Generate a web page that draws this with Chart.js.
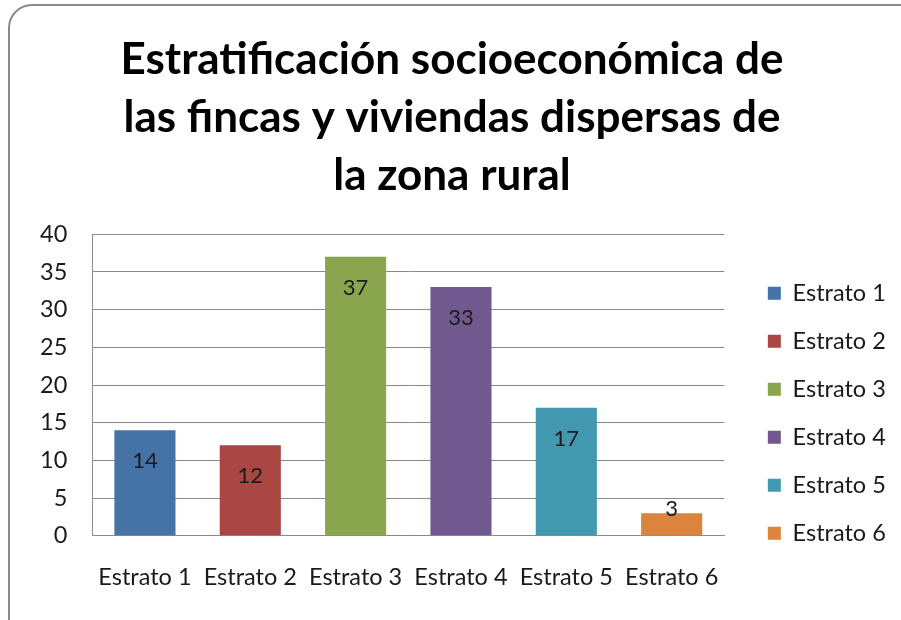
<!DOCTYPE html>
<html>
<head>
<meta charset="utf-8">
<script src="https://cdn.jsdelivr.net/npm/chart.js@4/dist/chart.umd.min.js"></script>
<style>
  html, body { margin: 0; padding: 0; background: #fff; overflow: hidden; }
  #wrap { position: relative; width: 901px; height: 620px; }
  #frame {
    position: absolute; left: 8px; top: 4px; width: 940px; height: 660px;
    border: 2px solid #8a8a8a; border-radius: 24px; box-sizing: border-box;
  }
  canvas { position: absolute; left: 0; top: 0; }
</style>
</head>
<body>
<div id="wrap">
  <div id="frame"></div>
  <canvas id="chart" width="901" height="620"></canvas>
</div>
<script>
var titleLines = ['Estratificación socioeconómica de', 'las fincas y viviendas dispersas de', 'la zona rural'];
var categories = ['Estrato 1', 'Estrato 2', 'Estrato 3', 'Estrato 4', 'Estrato 5', 'Estrato 6'];
var values = [14, 12, 37, 33, 17, 3];
var barColors = ['#4572A7', '#AA4643', '#89A54E', '#71588F', '#4198AF', '#DB843D'];
var yTicks = [0, 5, 10, 15, 20, 25, 30, 35, 40];

var fontFamily = 'Lato, "Open Sans", sans-serif';
var textColor = '#1a1a1a';
var gridColor = '#8a8a8a';

// one dataset per estrato so the legend lists each one
var datasets = categories.map(function(cat, i) {
	return {
		label: cat,
		data: categories.map(function(c, j) { return j === i ? values[i] : null; }),
		backgroundColor: barColors[i],
		borderWidth: 0
	};
});

// value labels near the top of each bar, like Excel's "inside end"
var barLabels = {
	id: 'barLabels',
	afterDatasetsDraw: function(chart) {
		var ctx = chart.ctx;
		ctx.save();
		ctx.font = '22px ' + fontFamily;
		ctx.fillStyle = textColor;
		ctx.textAlign = 'center';
		ctx.textBaseline = 'middle';
		chart.data.datasets.forEach(function(ds, i) {
			var meta = chart.getDatasetMeta(i);
			meta.data.forEach(function(bar, j) {
				var v = ds.data[j];
				if (v === null) return;
				var h = bar.base - bar.y;
				var y = h > 40 ? bar.y + 31 : bar.y - 4;
				ctx.fillText(String(v), bar.x, y);
			});
		});
		ctx.restore();
	}
};

new Chart(document.getElementById('chart'), {
	type: 'bar',
	data: { labels: categories, datasets: datasets },
	options: {
		responsive: false,
		animation: false,
		grouped: false,
		barPercentage: 0.58,
		categoryPercentage: 1,
		layout: { padding: { left: 15, right: 12, top: 0, bottom: 0 } },
		plugins: {
			title: {
				display: true,
				text: titleLines,
				color: '#000',
				font: { family: fontFamily, size: 44, weight: 'bold', lineHeight: 1.32 },
				padding: { top: 31, bottom: 29 }
			},
			legend: {
				position: 'right',
				title: { display: true, text: ' ', font: { size: 12 }, padding: 96 },
				labels: {
					color: textColor,
					font: { family: fontFamily, size: 23.5 },
					boxWidth: 13,
					boxHeight: 13,
					padding: 24.5
				}
			},
			tooltip: { enabled: false }
		},
		scales: {
			x: {
				grid: { display: false, drawTicks: false },
				border: { color: gridColor, width: 1 },
				ticks: { color: textColor, font: { family: fontFamily, size: 23.5 }, padding: 28 }
			},
			y: {
				min: 0,
				max: 40,
				afterBuildTicks: function(axis) {
					axis.ticks = yTicks.map(function(v) { return { value: v }; });
				},
				grid: { color: gridColor, lineWidth: 1, drawTicks: false },
				border: { color: gridColor, width: 1 },
				ticks: { color: textColor, font: { family: fontFamily, size: 23.5 }, padding: 25 }
			},
			// empty spacer between the plot and the legend
			gap: {
				position: 'right',
				display: true,
				grid: { display: false },
				border: { display: false },
				ticks: { display: false },
				afterFit: function(axis) { axis.width = 19; }
			}
		}
	},
	plugins: [barLabels]
});
</script>
</body>
</html>
